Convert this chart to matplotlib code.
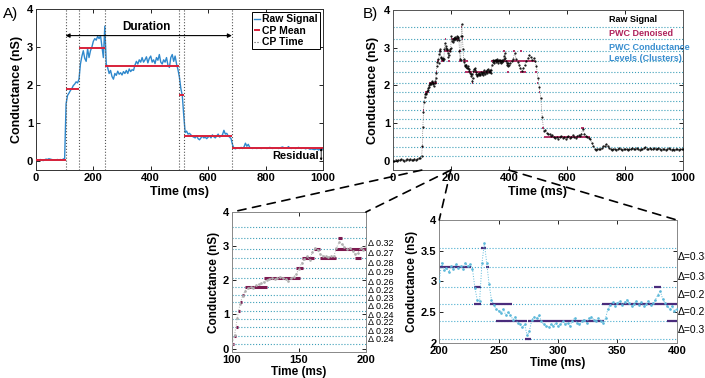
import numpy as np
import matplotlib
matplotlib.use("Agg")
import matplotlib.pyplot as plt
from matplotlib.patches import ConnectionPatch

plt.rcParams["font.family"] = ["Liberation Sans", "DejaVu Sans"]
plt.rcParams["font.weight"] = "bold"
plt.rcParams["axes.labelweight"] = "bold"

# ---------------- data ----------------
# Panel A: raw signal, 5 ms steps from 0 to 1000 ms
sigA = [0.0, 0.02, 0.01, 0.03, 0.02, 0.0, 0.02, 0.04, 0.03, 0.05, 0.04, 0.03, 0.02, 0.01,
        0.02, 0.03, 0.02, 0.03, 0.02, 0.04, 0.06,
        1.5, 1.72, 1.78, 1.85, 1.9, 1.98, 2.02, 2.08, 2.05, 2.15, 2.55, 2.75, 2.9, 2.7, 2.62,
        2.95, 2.72, 2.9, 3.0, 3.15, 3.22, 3.18, 3.28, 3.22, 3.3, 3.0, 2.72, 3.55, 2.55,
        2.45, 2.3, 2.38, 2.22, 2.15, 2.3, 2.25, 2.36, 2.28, 2.32, 2.26, 2.35, 2.3, 2.38, 2.3,
        2.42, 2.35, 2.4, 2.38, 2.52, 2.62, 2.55, 2.66, 2.6, 2.72, 2.6, 2.66, 2.74, 2.58, 2.7,
        2.76, 2.6, 2.66, 2.56, 2.72, 2.65, 2.8, 2.6, 2.55, 2.66, 2.6, 2.72, 2.52, 2.46, 2.72,
        2.8, 2.62, 2.76, 2.55, 2.4, 2.2, 1.9, 1.72, 1.2, 0.74, 0.78, 0.7, 0.72, 0.68, 0.64,
        0.62, 0.6, 0.66, 0.58, 0.55, 0.6, 0.65, 0.6, 0.62, 0.58, 0.62, 0.65, 0.6, 0.68, 0.63,
        0.6, 0.65, 0.7, 0.62, 0.65, 0.68, 0.8, 0.7, 0.72, 0.65, 0.62, 0.58, 0.42, 0.33, 0.31,
        0.33, 0.34, 0.32, 0.35, 0.32, 0.36, 0.46, 0.38, 0.43, 0.35, 0.33, 0.32, 0.34, 0.33,
        0.32, 0.34, 0.33, 0.32, 0.33, 0.34, 0.33, 0.32, 0.33, 0.35, 0.33, 0.32, 0.34, 0.33,
        0.34, 0.32, 0.33, 0.35, 0.36, 0.33, 0.34, 0.33, 0.37, 0.33, 0.32, 0.34, 0.33, 0.32,
        0.33, 0.35, 0.33, 0.32, 0.34, 0.33, 0.31, 0.33, 0.32, 0.3, 0.31, 0.3, 0.29, 0.3, 0.31,
        0.28, 0.3, 0.29, 0.3]
cp_times = [103, 151, 242, 498, 515, 683, 1000]
cp_means = [0.02, 1.89, 2.96, 2.49, 1.74, 0.66, 0.33]

# Panel B / insets: raw signal in three pieces
sigB_start = [0.0, -0.02, 0.02, 0.0, 0.03, 0.01, 0.04, 0.02, 0.0, 0.03, 0.05, 0.02, 0.04,
              0.01, 0.03, 0.05, 0.02, 0.04, 0.06, 0.08]                       # 0-95 ms, 5 ms
sigB_fine = [0.12, 0.4, 0.9, 1.3, 1.55, 1.7, 1.76, 1.8, 1.78, 1.85, 1.88, 1.92, 1.96, 2.0,
             2.04, 2.06, 2.03, 2.08, 2.1, 2.07, 2.04, 1.97, 2.06, 2.1, 2.18, 2.33, 2.5, 2.62,
             2.7, 2.6, 2.82, 2.95, 2.9, 2.76, 2.72, 2.7, 2.68, 2.72, 2.7, 2.95, 3.12, 3.05,
             2.98, 2.93, 2.96, 2.86, 2.76, 2.8, 2.95, 2.9,
             3.0, 3.3, 3.18, 3.22, 3.15, 3.25, 3.2, 3.28, 3.22, 3.25, 3.2, 3.3, 3.25, 3.28, 3.2,
             2.9, 2.7, 2.68, 3.3, 3.62, 3.3, 2.95, 2.7, 2.62, 2.55, 2.52, 2.48, 2.55, 2.45, 2.5,
             2.45, 2.38, 2.42, 2.32, 2.3, 2.25, 2.3, 2.12, 2.2, 2.38, 2.42, 2.4, 2.45, 2.35, 2.3,
             2.28, 2.25, 2.3, 2.28, 2.32, 2.27, 2.3, 2.35, 2.3, 2.33, 2.28, 2.36, 2.4, 2.33, 2.3,
             2.35, 2.38, 2.32, 2.4, 2.42, 2.38, 2.35, 2.4, 2.36, 2.33, 2.4, 2.55, 2.62, 2.66, 2.6,
             2.65, 2.68, 2.62, 2.66, 2.7, 2.65, 2.6, 2.64, 2.68, 2.62, 2.66, 2.6, 2.63, 2.68,
             2.62, 2.65, 2.7, 2.78, 2.85, 2.72, 2.65, 2.6, 2.55, 2.6, 2.52, 2.55]  # 100-400 ms, 2 ms
sigB_end = [2.6, 2.65, 2.7, 2.85, 2.7, 2.62, 2.55, 2.45, 2.38, 2.45, 2.55, 2.65, 2.72, 2.8,
            2.75, 2.68, 2.72, 2.65, 2.5, 2.2, 1.95, 1.65, 1.15, 0.78, 0.82, 0.74, 0.7, 0.72,
            0.66, 0.68, 0.62, 0.6, 0.64, 0.58, 0.62, 0.66, 0.6, 0.63, 0.58, 0.62, 0.66, 0.6,
            0.64, 0.68, 0.62, 0.6, 0.65, 0.68, 0.66, 0.72, 0.84, 0.72, 0.66, 0.62, 0.6, 0.58,
            0.48, 0.38, 0.32, 0.28, 0.3, 0.32, 0.3, 0.34, 0.38, 0.4, 0.45, 0.38, 0.33, 0.3, 0.28,
            0.3, 0.32, 0.29, 0.3, 0.33, 0.3, 0.28, 0.31, 0.3, 0.32, 0.29, 0.31, 0.3, 0.33, 0.3,
            0.32, 0.34, 0.31, 0.29, 0.32, 0.3, 0.33, 0.35, 0.32, 0.3, 0.33, 0.31, 0.3, 0.34,
            0.32, 0.3, 0.33, 0.31, 0.29, 0.32, 0.3, 0.28, 0.31, 0.33, 0.3, 0.29, 0.31, 0.28, 0.3,
            0.32, 0.29, 0.31, 0.3, 0.32]                                      # 405-1000 ms, 5 ms

levels = [0.13, 0.37, 0.64, 0.86, 1.10, 1.35, 1.58, 1.81, 2.07, 2.36, 2.64, 2.91, 3.23, 3.55]
deltas_left = ["0.24", "0.28", "0.22", "0.24", "0.26", "0.23", "0.22", "0.26", "0.29",
               "0.28", "0.27", "0.32"]
deltas_right = ["0.31", "0.28", "0.27", "0.33", "0.33"]   # from level 8 upwards

# PWC denoised segments: start, end, level index
pwc_start = [100, 101.5, 103, 104.5, 106, 107.5, 110, 124, 148, 152, 161, 166, 177, 179, 192,
             200, 229, 229, 235, 239, 243, 248, 272, 275, 337, 381, 392,
             400, 415, 438, 440, 490, 497, 503, 515, 520, 650]
pwc_end = [101.5, 103, 104.5, 106, 107.5, 109, 126, 151, 153, 161, 166, 178, 200, 182, 196,
           227, 235, 235, 239, 242, 261, 274, 277, 339, 400, 387, 400,
           490, 422, 444, 460, 497, 502, 508, 522, 680, 658]
pwc_level = [0, 1, 2, 4, 5, 6, 7, 8, 9, 10, 11, 10, 11, 12, 10,
             12, 11, 10, 13, 12, 10, 9, 8, 9, 10, 11, 9,
             10, 11, 11, 9, 9, 8, 7, 3, 2, 3]

zooms = [(100, 200), (200, 400)]

# ---------------- figure ----------------
fig = plt.figure(figsize=(7.05, 3.78), dpi=100)

def style(ax, fs=8, edge="#333333"):
    ax.tick_params(direction="in", top=True, right=True, length=3, width=0.6,
                   labelsize=fs, pad=2)
    for s in ax.spines.values():
        s.set_linewidth(0.7)
        s.set_color(edge)

tA = 5 * np.arange(len(sigA))
tB = np.concatenate([5 * np.arange(len(sigB_start)),
                     100 + 2 * np.arange(len(sigB_fine)),
                     405 + 5 * np.arange(len(sigB_end))])
yB = np.array(sigB_start + sigB_fine + sigB_end)
pwc_y = [levels[i] for i in pwc_level]

# Panel A
axA = fig.add_axes([0.051, 0.550, 0.407, 0.426])
axA.plot(tA, sigA, color="#2f88cc", lw=1.0, label="Raw Signal")
cp_edges = [0] + cp_times[:-1]
axA.hlines(cp_means, cp_edges, cp_times, color="#d8213a", lw=1.4, label="CP Mean", zorder=3)
for i, c in enumerate(cp_times[:-1]):
    axA.axvline(c, color="#555555", ls=":", lw=0.8, label="CP Time" if i == 0 else None)
axA.annotate("", xy=(cp_times[0], 3.3), xytext=(cp_times[5], 3.3),
             arrowprops=dict(arrowstyle="<|-|>", color="k", lw=0.8, mutation_scale=6,
                             shrinkA=0, shrinkB=0))
axA.text(385, 3.36, "Duration", fontsize=8.5, ha="center", va="bottom", fontweight="bold")
axA.text(985, 0.13, "Residual", fontsize=8, ha="right", va="center", fontweight="bold")
axA.annotate("", xy=(994, 0.0), xytext=(994, 0.33),
             arrowprops=dict(arrowstyle="<|-|>", color="k", lw=0.6, mutation_scale=3,
                             shrinkA=0, shrinkB=0))
axA.set_xlim(0, 1000)
axA.set_ylim(-0.25, 4)
axA.set_xticks([0, 200, 400, 600, 800, 1000])
axA.set_yticks([0, 1, 2, 3, 4])
axA.set_xlabel("Time (ms)", fontsize=9, labelpad=2)
axA.set_ylabel("Conductance (nS)", fontsize=9, labelpad=3)
style(axA)
leg = axA.legend(loc="upper right", fontsize=7.5, handlelength=0.6, handletextpad=0.2,
                 borderpad=0.2, labelspacing=0.15, fancybox=False, framealpha=1,
                 edgecolor="k", borderaxespad=0.3)
leg.get_frame().set_linewidth(0.7)
fig.text(0.004, 0.962, "A)", fontsize=11, fontweight="normal", va="center")

# Panel B
axB = fig.add_axes([0.557, 0.550, 0.412, 0.424])
axB.hlines(levels, 0, 1000, color="#3d9fb8", ls=":", lw=0.8, zorder=1)
axB.hlines(pwc_y, pwc_start, pwc_end, color="#b0235c", lw=1.3, zorder=2)
axB.plot(tB, yB, color="#555555", ls=":", lw=0.5, marker=".", ms=1.1, mec="k", mfc="k",
         zorder=3)
axB.text(744, 3.75, "Raw Signal", fontsize=6.5, color="k", va="center")
axB.text(744, 3.38, "PWC Denoised", fontsize=6.5, color="#b0235c", va="center")
axB.text(744, 3.0, "PWC Conductance", fontsize=6.5, color="#3a8fd0", va="center")
axB.text(744, 2.72, "Levels (Clusters)", fontsize=6.5, color="#3a8fd0", va="center")
axB.set_xlim(0, 1000)
axB.set_ylim(-0.25, 4)
axB.set_xticks([0, 200, 400, 600, 800, 1000])
axB.set_yticks([0, 1, 2, 3, 4])
axB.set_xlabel("Time (ms)", fontsize=9, labelpad=2)
axB.set_ylabel("Conductance (nS)", fontsize=9, labelpad=3)
style(axB, edge="#555555")
fig.text(0.514, 0.962, "B)", fontsize=11, fontweight="normal", va="center")

# Inset left (100-200 ms)
axL = fig.add_axes([0.329, 0.069, 0.190, 0.370])
axL.hlines(levels, 100, 200, color="#3d9fb8", ls=":", lw=0.8, zorder=1)
axL.hlines(pwc_y, pwc_start, pwc_end, color="#7d1a50", lw=2.2, zorder=2)
axL.plot(tB, yB, color="#b0b0b0", ls=":", lw=0.7, marker=".", ms=1.8, zorder=3)
for i, d in enumerate(deltas_left):
    axL.text(201.5, (levels[i] + levels[i + 1]) / 2, "\u0394 " + d, fontsize=6.5,
             va="center", ha="left", fontweight="normal", clip_on=False)
axL.set_xlim(*zooms[0])
axL.set_ylim(-0.1, 4)
axL.set_xticks([100, 150, 200])
axL.set_yticks([0, 1, 2, 3, 4])
axL.set_xlabel("Time (ms)", fontsize=8.5, labelpad=1)
axL.set_ylabel("Conductance (nS)", fontsize=8.5, labelpad=2)
style(axL, fs=8, edge="#888888")

# Inset right (200-400 ms)
axR = fig.add_axes([0.623, 0.093, 0.337, 0.325])
axR.hlines(levels, 200, 400, color="#4aaed0", ls=":", lw=0.8, zorder=1)
axR.hlines(pwc_y, pwc_start, pwc_end, color="#4a2c7c", lw=1.6, zorder=2)
axR.plot(tB, yB, color="#5db9da", ls=":", lw=0.7, marker=".", ms=1.8, zorder=3)
for j, d in enumerate(deltas_right):
    i = 8 + j
    axR.text(401, (levels[i] + levels[i + 1]) / 2, "\u0394=" + d, fontsize=7.5,
             va="center", ha="left", fontweight="normal", clip_on=False)
axR.set_xlim(*zooms[1])
axR.set_ylim(2, 4)
axR.set_xticks([200, 250, 300, 350, 400])
axR.set_yticks([2, 2.5, 3, 3.5, 4])
axR.set_yticklabels(["2", "2.5", "3", "3.5", "4"])
axR.set_xlabel("Time (ms)", fontsize=8.5, labelpad=1)
axR.set_ylabel("Conductance (nS)", fontsize=8.5, labelpad=2)
style(axR, fs=8, edge="#888888")

# dashed zoom connectors
for ax_in, (x0, x1) in zip([axL, axR], zooms):
    top = ax_in.get_ylim()[1]
    for x in (x0, x1):
        con = ConnectionPatch(xyA=(x, -0.25), coordsA=axB.transData,
                              xyB=(x, top), coordsB=ax_in.transData,
                              color="k", lw=1.2, ls=(0, (5, 4)), zorder=10)
        fig.add_artist(con)

fig.savefig("out.png", dpi=100)
